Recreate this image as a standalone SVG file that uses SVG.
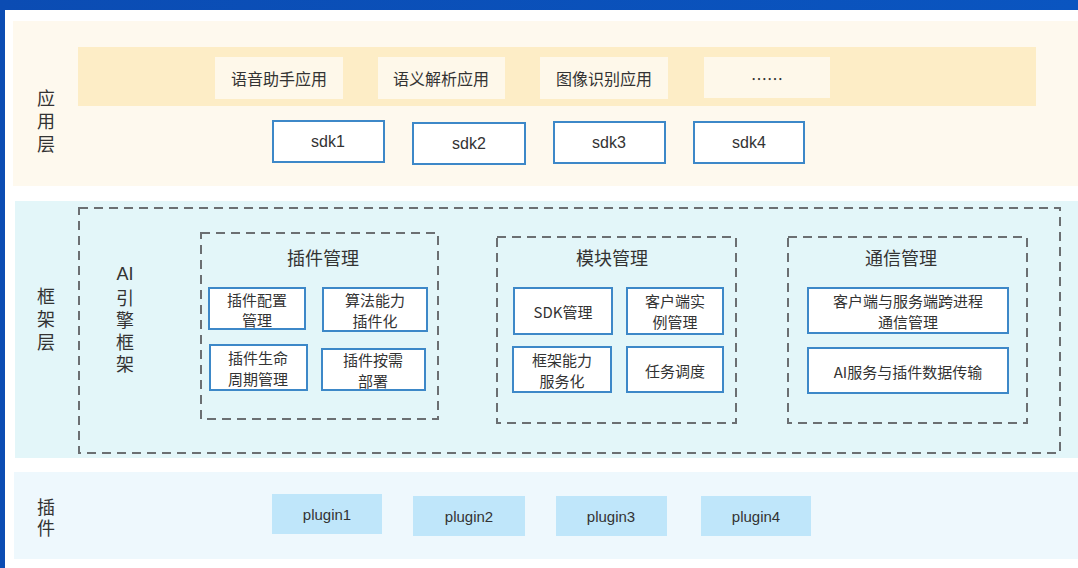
<svg xmlns="http://www.w3.org/2000/svg" width="1078" height="568" viewBox="0 0 1078 568">
<defs>
<linearGradient id="bg" x1="0" y1="0" x2="1" y2="0">
<stop offset="0" stop-color="#0b4cb3"/><stop offset="1" stop-color="#0a55c0"/>
</linearGradient>
</defs>
<style>
.t{font-family:"Noto Sans CJK SC","Liberation Sans",sans-serif;fill:#333;text-anchor:middle;dominant-baseline:central}
.v{font-family:"Noto Sans CJK SC","Liberation Sans",sans-serif;fill:#333;text-anchor:middle;writing-mode:vertical-rl;font-size:18px}
.lat{font-family:"Liberation Sans","Noto Sans CJK SC",sans-serif;fill:#333;text-anchor:middle;dominant-baseline:central}
.lbl{font-size:18px}
.ttl{font-size:18px}
.box{fill:#fff;stroke:#3d88c8;stroke-width:2}
.app{fill:#fef8ea}
.dash{fill:none;stroke:#6b6f72;stroke-width:2;stroke-dasharray:9 6}
.plug{fill:#bfe6fa}
.s15{font-size:15px}
.s16{font-size:16px}
</style>
<rect x="0" y="0" width="1078" height="568" fill="url(#bg)"/>
<rect x="5" y="10" width="1073" height="558" fill="#fff"/>

<g id="layer-app">
<rect x="13" y="21" width="1065" height="165" fill="#fef9ee"/>
<rect x="78" y="47" width="958" height="59" fill="#fdedc6"/>
<text class="v" x="46" y="124" letter-spacing="5">应用层</text>
</g>
<g id="app1"><rect class="app" x="215" y="57" width="128" height="42"/><text class="t s16" x="279" y="78">语音助手应用</text></g>
<g id="app2"><rect class="app" x="378" y="57" width="127" height="42"/><text class="t s16" x="441" y="78">语义解析应用</text></g>
<g id="app3"><rect class="app" x="540" y="57" width="128" height="42"/><text class="t s16" x="604" y="78">图像识别应用</text></g>
<g id="app4"><rect class="app" x="704" y="57" width="126" height="41"/><text class="t s16" x="767" y="78">……</text></g>
<g id="sdk1"><rect class="box" x="273" y="121" width="111" height="41"/><text class="lat s16" x="328" y="141">sdk1</text></g>
<g id="sdk2"><rect class="box" x="413" y="123" width="112" height="41"/><text class="lat s16" x="469" y="143">sdk2</text></g>
<g id="sdk3"><rect class="box" x="554" y="122" width="111" height="41"/><text class="lat s16" x="609" y="142">sdk3</text></g>
<g id="sdk4"><rect class="box" x="694" y="122" width="110" height="41"/><text class="lat s16" x="749" y="142">sdk4</text></g>

<g id="layer-framework">
<rect x="15" y="201" width="1063" height="257" fill="#e3f6f9"/>
<text class="v" x="46" y="322" letter-spacing="5">框架层</text>
</g>
<g id="ai-engine">
<rect class="dash" x="79" y="208" width="981" height="245"/>
<text class="lat lbl" x="125" y="274">AI</text>
<text class="v" x="125" y="333" letter-spacing="4">引擎框架</text>
</g>
<g id="plugin-mgmt">
<rect class="dash" x="201" y="233" width="237" height="186"/>
<text class="t ttl" x="323" y="257">插件管理</text>
</g>
<g id="pm1"><rect class="box" x="209" y="288" width="96" height="41"/><text class="t s15" x="257" y="299">插件配置</text><text class="t s15" x="257" y="319">管理</text></g>
<g id="pm2"><rect class="box" x="323" y="288" width="104" height="43"/><text class="t s15" x="375" y="299">算法能力</text><text class="t s15" x="375" y="320">插件化</text></g>
<g id="pm3"><rect class="box" x="210" y="345" width="97" height="45"/><text class="t s15" x="258" y="357">插件生命</text><text class="t s15" x="258" y="378">周期管理</text></g>
<g id="pm4"><rect class="box" x="322" y="349" width="103" height="41"/><text class="t s15" x="373" y="359">插件按需</text><text class="t s15" x="373" y="380">部署</text></g>

<g id="module-mgmt">
<rect class="dash" x="497" y="237" width="239" height="186"/>
<text class="t ttl" x="612" y="257">模块管理</text>
</g>
<g id="mm1"><rect class="box" x="514" y="288" width="98" height="46"/><text class="t s15" x="563" y="311">SDK管理</text></g>
<g id="mm2"><rect class="box" x="627" y="288" width="96" height="46"/><text class="t s15" x="675" y="300">客户端实</text><text class="t s15" x="675" y="321">例管理</text></g>
<g id="mm3"><rect class="box" x="513" y="347" width="98" height="45"/><text class="t s15" x="562" y="359">框架能力</text><text class="t s15" x="562" y="380">服务化</text></g>
<g id="mm4"><rect class="box" x="627" y="347" width="96" height="45"/><text class="t s15" x="675" y="370">任务调度</text></g>

<g id="comm-mgmt">
<rect class="dash" x="788" y="237" width="239" height="186"/>
<text class="t ttl" x="901" y="257">通信管理</text>
</g>
<g id="cm1"><rect class="box" x="808" y="288" width="200" height="45"/><text class="t s15" x="908" y="300">客户端与服务端跨进程</text><text class="t s15" x="908" y="321">通信管理</text></g>
<g id="cm2"><rect class="box" x="808" y="348" width="200" height="45"/><text class="t s15" x="908" y="371">AI服务与插件数据传输</text></g>

<g id="layer-plugin">
<rect x="14" y="472" width="1064" height="87" fill="#eef8fd"/>
<text class="v" x="46" y="519" letter-spacing="3">插件</text>
</g>
<g id="plugin1"><rect class="plug" x="272" y="494" width="110" height="40"/><text class="lat s15" x="327" y="514">plugin1</text></g>
<g id="plugin2"><rect class="plug" x="413" y="496" width="112" height="40"/><text class="lat s15" x="469" y="516">plugin2</text></g>
<g id="plugin3"><rect class="plug" x="556" y="496" width="111" height="40"/><text class="lat s15" x="611" y="516">plugin3</text></g>
<g id="plugin4"><rect class="plug" x="701" y="496" width="110" height="40"/><text class="lat s15" x="756" y="516">plugin4</text></g>

<g id="connectors"></g>
</svg>
